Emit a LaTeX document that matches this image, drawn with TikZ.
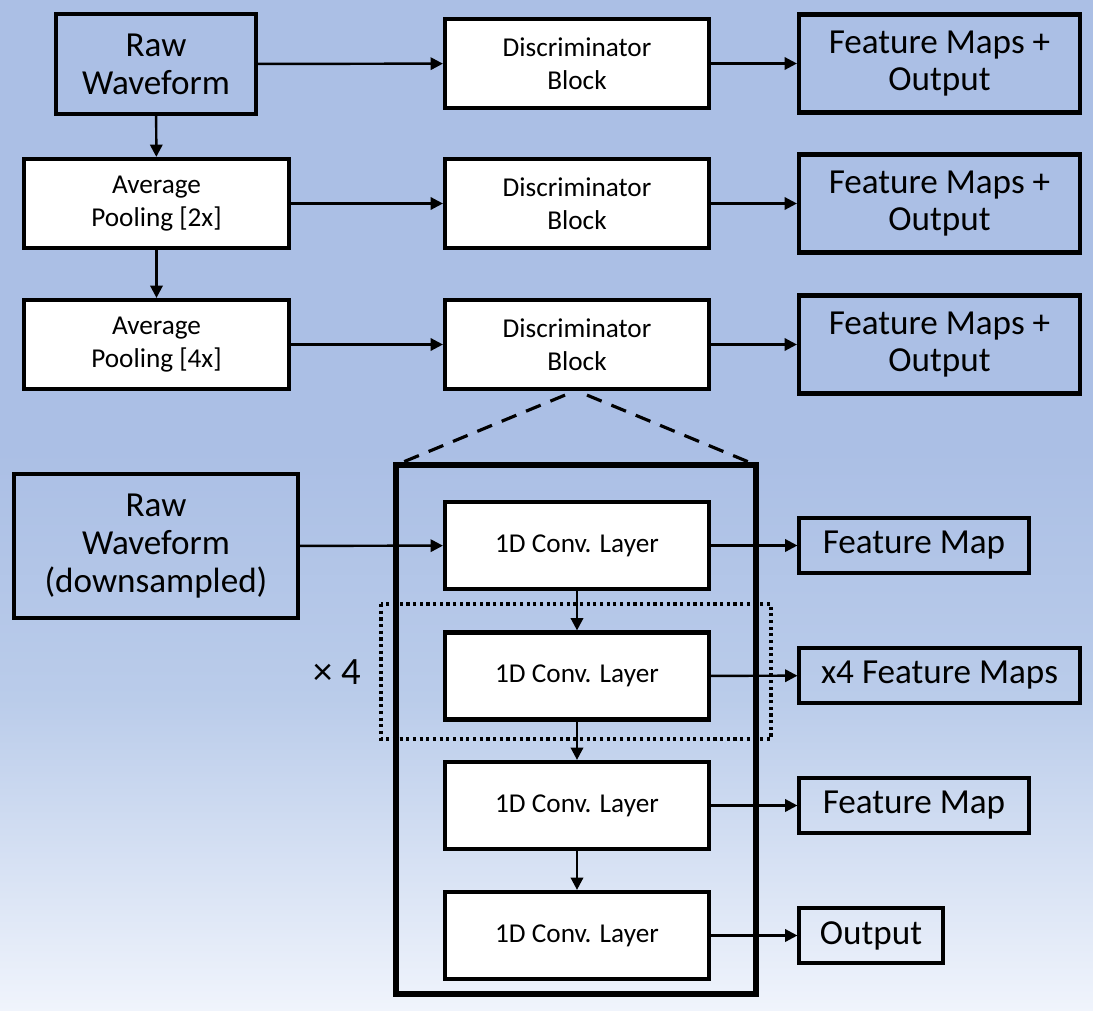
\documentclass[tikz,border=0pt]{standalone}
\usepackage{fontspec}
\setmainfont{Carlito}
\usetikzlibrary{arrows.meta}
\definecolor{bgblue}{RGB}{171,191,229}
\definecolor{bgmid}{RGB}{186,204,234}
\definecolor{bglight}{RGB}{240,244,252}

\begin{document}
\begin{tikzpicture}[x=0.02cm,y=-0.02cm,
  bigtxt/.style={font=\fontsize{20}{21.5}\selectfont,align=center},
  smalltxt/.style={font=\fontsize{15.5}{18.7}\selectfont,align=center},
  wbox/.style={draw,line width=2.4pt,fill=white,smalltxt,inner sep=0pt},
  bbox/.style={draw,line width=2.4pt,bigtxt,inner sep=0pt},
  obox/.style={draw,line width=1.8pt,bigtxt,inner sep=0pt,minimum height=1.1cm},
  arr/.style={line width=1.4pt,-{Triangle[length=7pt,width=7pt]}}]
\useasboundingbox (0,0) rectangle (1093,1011);
\fill[bgblue] (0,0) rectangle (1093,450);
\shade[top color=bgblue,bottom color=bgmid] (0,449) rectangle (1093,700);
\shade[top color=bgmid,bottom color=bglight] (0,699) rectangle (1093,1011);

% multi-scale part
\node[bbox,minimum width=4cm,minimum height=2cm] (raw) at (156,64) {Raw\\Waveform};
\node[wbox,minimum width=5.3cm,minimum height=1.78cm] (pool2) at (156.5,203.5) {Average\\Pooling [2x]};
\node[wbox,minimum width=5.3cm,minimum height=1.78cm] (pool4) at (156.5,344.5) {Average\\Pooling [4x]};
\foreach \i/\y in {1/63.5,2/203.5,3/344.5}{
  \node[wbox,minimum width=5.28cm,minimum height=1.78cm] (disc\i) at (577,\y) {Discriminator\\Block};
  \node[bbox,minimum width=5.62cm,minimum height=1.96cm] (fmo\i) at (939.5,\y) {Feature Maps +\\Output};
  \draw[arr] (disc\i) -- (fmo\i);
}
\draw[arr] (raw) -- (disc1);
\draw[arr] (pool2) -- (disc2);
\draw[arr] (pool4) -- (disc3);
\draw[arr] (raw) -- (pool2);
\draw[arr] (pool2) -- (pool4);

% inside one block
\coordinate (bl) at (396,465); \coordinate (br) at (756,465);
\draw[line width=3pt] (bl) rectangle (756,994);
\draw[dashed,line width=1.8pt,dash pattern=on 9pt off 6pt] ([xshift=-0.24cm,yshift=-0.08cm]disc3.south) -- (bl);
\draw[dashed,line width=1.8pt,dash pattern=on 9pt off 6pt] ([xshift=0.2cm,yshift=-0.08cm]disc3.south) -- (br);
\node[draw,line width=1.8pt,bigtxt,inner sep=0pt,minimum width=5.68cm,minimum height=2.88cm] (rawd) at (156,546) {Raw\\Waveform\\(downsampled)};
\foreach \i/\y in {1/545.5,2/676,3/805.5,4/935.5}
  \node[wbox,minimum width=5.28cm,minimum height=1.74cm] (conv\i) at (577,\y) {1D Conv. Layer};
\node[obox,minimum width=4.6cm] (fm1) at (914,545.5) {Feature Map};
\node[obox,minimum width=5.62cm] (fm4) at (939.5,675.5) {x4 Feature Maps};
\node[obox,minimum width=4.6cm] (fm2) at (914,805.5) {Feature Map};
\node[obox,minimum width=2.88cm] (out) at (871,935.5) {Output};
\draw[line width=1.8pt,dotted] (381,604) rectangle (771,739);
\node[font=\fontsize{22}{24}\selectfont] (times) at (337,672) {× 4};
\draw[arr] (rawd) -- (conv1);
\draw[arr] (conv1) -- (conv2);
\draw[arr] (conv2) -- (conv3);
\draw[arr] (conv3) -- (conv4);
\draw[arr] (conv1) -- (fm1);
\draw[arr] (conv2) -- (fm4);
\draw[arr] (conv3) -- (fm2);
\draw[arr] (conv4) -- (out);
\end{tikzpicture}
\end{document}
